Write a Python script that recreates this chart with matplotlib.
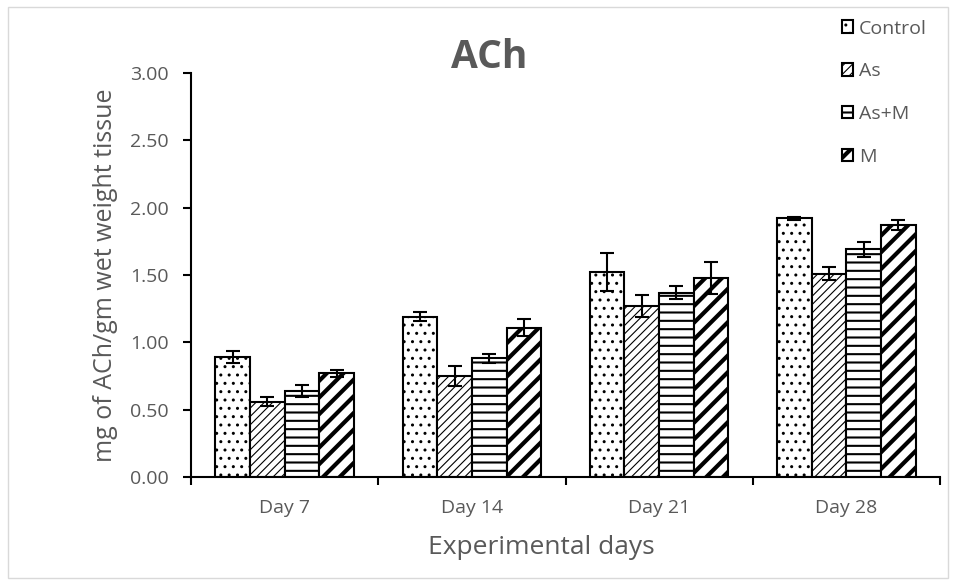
import numpy as np
import matplotlib
matplotlib.use("Agg")
import matplotlib.pyplot as plt
from matplotlib.patches import Rectangle, Patch

plt.rcParams['font.family'] = ['Open Sans', 'DejaVu Sans']

days = ['Day 7', 'Day 14', 'Day 21', 'Day 28']
groups = ['Control', 'As', 'As+M', 'M']

control = [0.89, 1.19, 1.52, 1.92]
arsenic = [0.56, 0.75, 1.27, 1.51]
ars_m = [0.64, 0.88, 1.37, 1.69]
m_only = [0.77, 1.11, 1.48, 1.87]

control_err = [0.045, 0.035, 0.14, 0.01]
arsenic_err = [0.035, 0.075, 0.08, 0.05]
ars_m_err = [0.043, 0.035, 0.045, 0.057]
m_only_err = [0.025, 0.063, 0.12, 0.035]

values = [control, arsenic, ars_m, m_only]
errors = [control_err, arsenic_err, ars_m_err, m_only_err]
hatches = ['..', '////', '--', '//']
hatch_lw = [1.0, 0.8, 1.5, 3.0]

grey = '#595959'

fig = plt.figure(figsize=(9.56, 5.85), dpi=100)
fig.patches.append(Rectangle((8 / 956, 1 - 578 / 585), 940 / 956, 571 / 585,
                             transform=fig.transFigure, fill=False,
                             edgecolor='#d9d9d9', linewidth=1))
ax = fig.add_axes([191 / 956, 1 - 477 / 585, 749 / 956, 404 / 585])

x = np.arange(len(days))
w = 0.185
handles = []
for i in range(4):
    plt.rcParams['hatch.linewidth'] = hatch_lw[i]
    bars = ax.bar(x + (i - 1.5) * w, values[i], w, color='white',
                  edgecolor='black', linewidth=1.5, hatch=hatches[i],
                  yerr=errors[i], capsize=5,
                  error_kw=dict(ecolor='black', elinewidth=1.5, capthick=1.5))
    for b in bars:
        if hasattr(b, 'set_hatch_linewidth'):
            b.set_hatch_linewidth(hatch_lw[i])
    handles.append(Patch(facecolor='white', edgecolor='black', hatch=hatches[i],
                         linewidth=1.5, label=groups[i]))

ax.set_xlim(-0.5, 3.5)
ax.set_ylim(0, 3.0)
ax.set_yticks(np.arange(0, 3.01, 0.5))
ax.set_yticklabels(['%.2f' % v for v in np.arange(0, 3.01, 0.5)])
ax.set_xticks(x)
ax.set_xticklabels(days)
ax.set_xticks(np.arange(-0.5, 3.6, 1), minor=True)
ax.tick_params(axis='x', which='major', length=0, pad=16, labelsize=14, labelcolor=grey)
ax.tick_params(axis='x', which='minor', length=6, width=1.5, direction='out')
ax.tick_params(axis='y', length=6, width=1.5, labelsize=14, labelcolor=grey, pad=10)
for s in ['top', 'right']:
    ax.spines[s].set_visible(False)
for s in ['left', 'bottom']:
    ax.spines[s].set_linewidth(1.5)

ax.set_ylabel('mg of ACh/gm wet weight tissue', fontsize=18, color=grey, labelpad=9)
fig.text(541 / 956, 1 - 548 / 585, 'Experimental days', fontsize=19, color=grey,
         ha='center', va='center')

fig.text(489 / 956, 1 - 57 / 585, 'ACh', fontsize=28, fontweight='bold',
         color=grey, ha='center', va='center')

leg = fig.legend(handles=handles, loc='upper left', bbox_to_anchor=(824 / 956, 1 - 2 / 585),
                 frameon=False, fontsize=14, labelcolor=grey, handlelength=0.6,
                 handleheight=0.6, handletextpad=0.3, labelspacing=1.27)
for p, lw in zip(leg.get_patches(), hatch_lw):
    if hasattr(p, 'set_hatch_linewidth'):
        p.set_hatch_linewidth(lw)

fig.savefig('out.png', dpi=100)
